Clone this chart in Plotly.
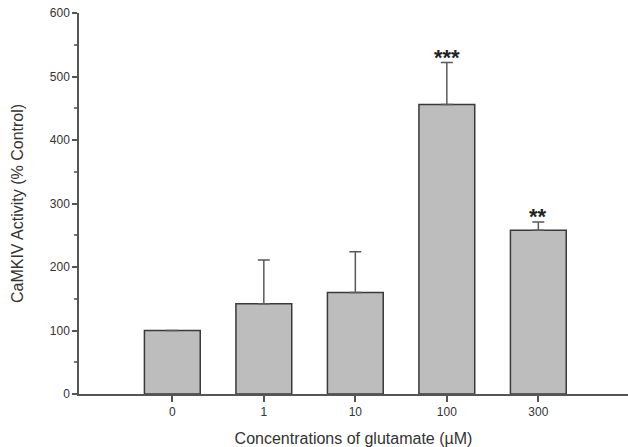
import plotly.graph_objects as go

categories = ["0", "1", "10", "100", "300"]
values = [100, 142, 160, 456, 258]
errors = [0, 69, 64, 66, 13]
signif = ["", "", "", "***", "**"]

fig = go.Figure()
fig.add_trace(go.Bar(
    x=categories, y=values,
    width=0.61,
    marker=dict(color="#bdbdbd", line=dict(color="#3a3a3a", width=1.5)),
    error_y=dict(type="data", symmetric=False, array=errors,
                 arrayminus=[0] * len(errors),
                 color="#5a5a5a", thickness=1.5, width=6, visible=True),
    showlegend=False,
))

for i, (v, e, s) in enumerate(zip(values, errors, signif)):
    if s:
        fig.add_annotation(x=i, y=v + e, xref="x", yref="y",
                           text="<b>" + s + "</b>", showarrow=False,
                           yanchor="bottom", yshift=-9,
                           font=dict(family="Liberation Sans, Arial", size=22, color="#222"))

font = dict(family="Liberation Sans, Arial", color="#333")
fig.update_layout(
    width=628, height=447,
    margin=dict(l=79, r=0, t=13, b=53),
    paper_bgcolor="white", plot_bgcolor="white",
    font=font,
    xaxis=dict(
        type="category", range=[-1.02, 4.98],
        showline=True, linecolor="#555", linewidth=1.5,
        ticks="outside", ticklen=6, tickcolor="#555", tickwidth=1.5,
        tickfont=dict(size=12, color="#333"),
        showgrid=False, zeroline=False,
        title=dict(text="Concentrations of glutamate (µM)", standoff=16,
                   font=dict(size=16, color="#333")),
    ),
    yaxis=dict(
        range=[0, 600], dtick=100,
        showline=True, linecolor="#555", linewidth=1.5,
        ticks="outside", ticklen=5, tickcolor="#555", tickwidth=1.5,
        minor=dict(dtick=50, ticks="outside", ticklen=3, tickcolor="#777"),
        tickfont=dict(size=12, color="#333"),
        showgrid=False, zeroline=False,
        title=dict(text="CaMKIV Activity (% Control)", standoff=22,
                   font=dict(size=16, color="#333")),
    ),
    bargap=0.39,
)

fig.write_html("out.html")
